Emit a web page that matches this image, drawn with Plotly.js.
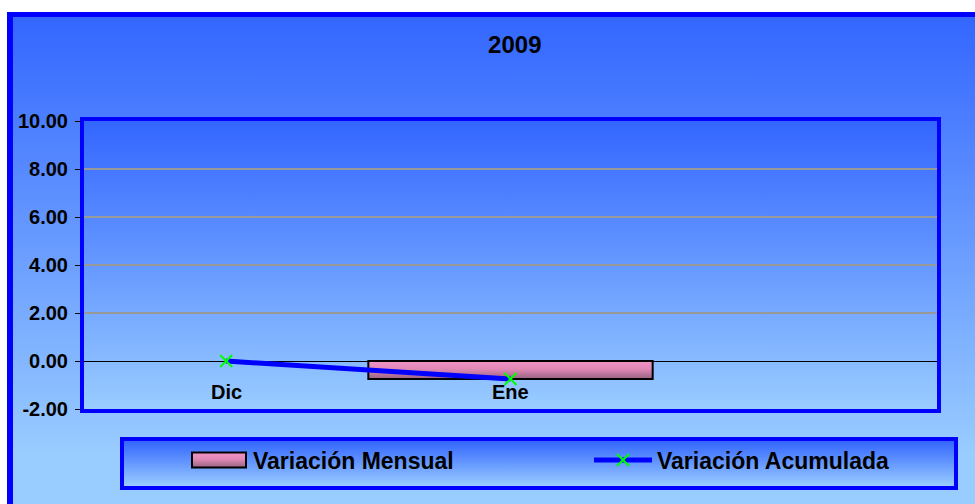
<!DOCTYPE html>
<html>
<head>
<meta charset="utf-8">
<script src="https://cdn.plot.ly/plotly-3.0.1.min.js"></script>
<style>
  html, body { margin: 0; padding: 0; background: #ffffff; width: 975px; height: 504px; overflow: hidden; }
  #outer { position: absolute; left: 7px; top: 12px; width: 980px; height: 500px; box-sizing: border-box;
           border-left: 6px solid #0000FF; border-top: 5px solid #0000FF;
           background: linear-gradient(to bottom, #3366FF 0%, #99CCFF 88%, #99CCFF 100%); }
  #plotbg { position: absolute; left: 84px; top: 121px; width: 853px; height: 288px;
            background: linear-gradient(to bottom, #3366FF 0%, #99CCFF 100%); }
  #legbox { position: absolute; left: 120px; top: 437px; width: 838px; height: 53px; box-sizing: border-box;
            border: 4px solid #0000FF;
            background: linear-gradient(to bottom, #3366FF 0%, #99CCFF 100%); }
  #chart { position: absolute; left: 0; top: 0; width: 975px; height: 504px; }
</style>
</head>
<body>
<div id="outer"></div>
<div id="plotbg"></div>
<div id="legbox"></div>
<div id="chart"></div>
<script>
// ---- data ----
const categories = ['Dic', 'Ene'];
const variacionMensual = [null, -0.75];
const variacionAcumulada = [0.00, -0.75];
const tickValues = [-2, 0, 2, 4, 6, 8, 10];
const tickLabels = ['-2.00', '0.00', '2.00', '4.00', '6.00', '8.00', '10.00'];
const chartTitle = '2009';
const seriesNames = ['Variación Mensual', 'Variación Acumulada'];

const FONT = '"Liberation Sans", Arial, sans-serif';

const traces = [
  {
    type: 'bar',
    name: seriesNames[0],
    x: categories,
    y: variacionMensual,
    legend: 'legend',
    marker: { color: '#E28AB6', line: { color: '#000000', width: 2 } },
    hoverinfo: 'x+y'
  },
  {
    type: 'scatter',
    mode: 'lines+markers',
    name: seriesNames[1],
    x: categories,
    y: variacionAcumulada,
    legend: 'legend2',
    line: { color: '#0000FF', width: 5 },
    marker: { symbol: 'x-thin-open', size: 12, color: '#00FF00', line: { color: '#00FF00', width: 2 } },
    hoverinfo: 'x+y'
  }
];

const annotations = categories.map(c => ({
  x: c, y: -1.3, xref: 'x', yref: 'y', text: c, showarrow: false,
  font: { family: FONT, size: 20, weight: 'bold', color: '#000000' },
  xanchor: 'center', yanchor: 'middle'
}));

const legendBase = {
  orientation: 'h', xref: 'container', yref: 'container', xanchor: 'left', y: 1 - 460 / 504, yanchor: 'middle',
  bgcolor: 'rgba(0,0,0,0)', borderwidth: 0,
  font: { family: FONT, size: 23, weight: 'bold', color: '#000000' },
  itemwidth: 58
};

const layout = {
  width: 975, height: 504,
  margin: { l: 84, r: 38, t: 121, b: 95 },
  paper_bgcolor: 'rgba(0,0,0,0)',
  plot_bgcolor: 'rgba(0,0,0,0)',
  bargap: 0,
  title: {
    text: chartTitle, xref: 'container', yref: 'container', x: 0.528, y: 0.911,
    xanchor: 'center', yanchor: 'middle',
    font: { family: FONT, size: 24, weight: 'bold', color: '#000000' }
  },
  xaxis: {
    type: 'category', categoryorder: 'array', categoryarray: categories,
    range: [-0.5, 2.5], showticklabels: false, ticks: '',
    showgrid: false, zeroline: false,
    showline: true, linecolor: '#0000FF', linewidth: 4, mirror: true, fixedrange: true
  },
  yaxis: {
    range: [-2, 10], tickvals: tickValues, ticktext: tickLabels,
    ticks: 'outside', ticklen: 5, tickwidth: 1, tickcolor: '#000000', ticklabelstandoff: 3,
    tickfont: { family: FONT, size: 20, weight: 'bold', color: '#000000' },
    showgrid: true, gridcolor: '#999999', gridwidth: 1.3,
    zeroline: true, zerolinecolor: '#000000', zerolinewidth: 1,
    showline: true, linecolor: '#0000FF', linewidth: 4, mirror: true, fixedrange: true
  },
  showlegend: true,
  legend: Object.assign({}, legendBase, { x: 185 / 975 }),
  legend2: Object.assign({}, legendBase, { x: 589 / 975 }),
  annotations: annotations
};

Plotly.newPlot('chart', traces, layout, { displayModeBar: false, staticPlot: true }).then(gd => {
  const NS = 'http://www.w3.org/2000/svg';
  const svg = gd.querySelector('svg.main-svg');
  // pink-to-mauve vertical gradient like the Excel bar fill
  if (svg) {
    let defs = svg.querySelector('defs');
    if (!defs) { defs = document.createElementNS(NS, 'defs'); svg.insertBefore(defs, svg.firstChild); }
    const grad = document.createElementNS(NS, 'linearGradient');
    grad.setAttribute('id', 'barGrad');
    grad.setAttribute('x1', '0'); grad.setAttribute('y1', '0');
    grad.setAttribute('x2', '0'); grad.setAttribute('y2', '1');
    [['0%', '#F393C6'], ['45%', '#E088B6'], ['100%', '#976380']].forEach(([o, c]) => {
      const s = document.createElementNS(NS, 'stop');
      s.setAttribute('offset', o); s.setAttribute('stop-color', c);
      grad.appendChild(s);
    });
    defs.appendChild(grad);
  }
  gd.querySelectorAll('.barlayer .point path').forEach(p => { p.style.fill = 'url(#barGrad)'; });
  // enlarge the bar legend swatch to the wide Excel-style rectangle
  const leg = gd.querySelector('.legend');
  if (leg) {
    const p = leg.querySelector('.legendpoints path');
    if (p) { p.setAttribute('d', 'M27,7.5H-27V-7.5H27Z'); p.style.fill = 'url(#barGrad)'; }
  }
});
</script>
</body>
</html>
